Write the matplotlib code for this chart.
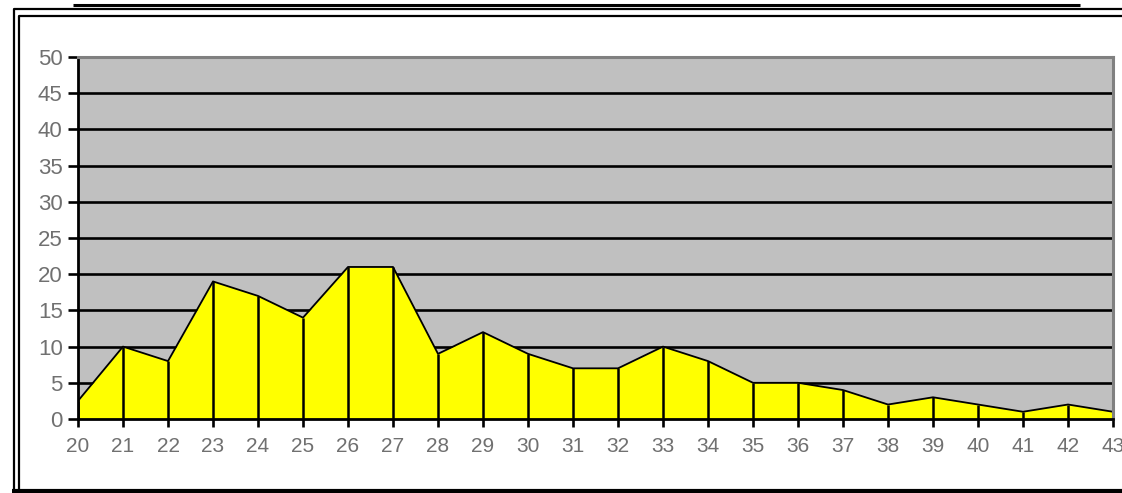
import matplotlib
matplotlib.use("Agg")
from matplotlib import pyplot as plt
from matplotlib.lines import Line2D

# ages on the x axis and counts per age
ages = list(range(20, 44))
counts = [2.5, 10, 8, 19, 17, 14, 21, 21, 9, 12, 9, 7, 7, 10, 8, 5, 5, 4, 2, 3, 2, 1, 2, 1]
y_ticks = [0, 5, 10, 15, 20, 25, 30, 35, 40, 45, 50]

W, H = 1122, 493
fig = plt.figure(figsize=(W / 100, H / 100), dpi=100)
fig.patch.set_facecolor("white")


def px(x, y):
    """pixel position -> figure fraction"""
    return x / W, 1 - y / H


# plot area
l, t = px(78, 57)
r, b = px(1113, 419)
ax = fig.add_axes([l, b, r - l, t - b])
ax.set_facecolor("#c0c0c0")

ax.fill_between(ages, counts, 0, color="#ffff00", zorder=2, linewidth=0)
ax.plot(ages, counts, color="black", lw=1.3, zorder=3)
ax.vlines(ages, 0, counts, color="black", lw=1.8, zorder=3)

for v in y_ticks[1:-1]:
    ax.axhline(v, color="black", lw=1.9, zorder=1)

ax.set_xlim(20, 43)
ax.set_ylim(0, 50)
ax.set_xticks(ages)
ax.set_yticks(y_ticks)

fam = ["Liberation Sans", "DejaVu Sans"]
ax.set_xticklabels([str(a) for a in ages], color="#707070", family=fam, size=15)
ax.set_yticklabels([str(v) for v in y_ticks], color="#707070", family=fam, size=16)
ax.tick_params(axis="y", direction="out", length=7.5, width=1.9, color="black", pad=3.5)
ax.tick_params(axis="x", direction="out", length=5.5, width=1.9, color="black", pad=7.5)

ax.spines["left"].set_color("black")
ax.spines["left"].set_linewidth(2.0)
ax.spines["bottom"].set_color("black")
ax.spines["bottom"].set_linewidth(2.0)
ax.spines["top"].set_color("#808080")
ax.spines["top"].set_linewidth(2.2)
ax.spines["right"].set_color("#808080")
ax.spines["right"].set_linewidth(2.2)
for s in ax.spines.values():
    s.set_zorder(4)


def fig_line(xs, ys, lw):
    pts = [px(x, y) for x, y in zip(xs, ys)]
    fig.add_artist(Line2D([p[0] for p in pts], [p[1] for p in pts],
                          transform=fig.transFigure, color="black", lw=lw,
                          solid_capstyle="butt"))


# title underline
fig_line([73, 1080], [4.5, 4.5], 2.2)

# double frame around the chart
fig_line([13.5, 13.5, 1122], [493, 8.5, 8.5], 1.6)
fig_line([18.5, 18.5, 1122], [490, 16, 16], 1.6)
fig_line([12, 1122], [491, 491], 3.0)

fig.savefig("out.png", dpi=100)
